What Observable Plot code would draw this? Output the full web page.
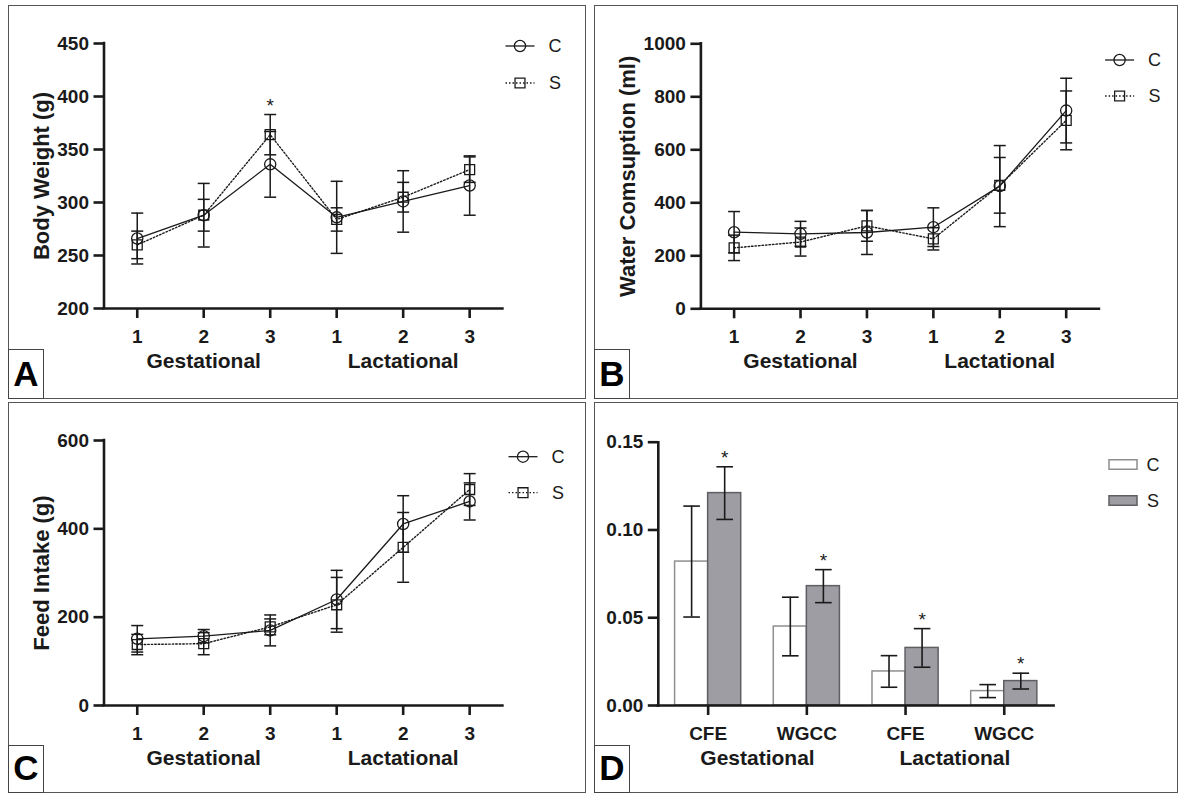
<!DOCTYPE html>
<html><head><meta charset="utf-8">
<script src="https://cdn.jsdelivr.net/npm/d3@7"></script>
<script src="https://cdn.jsdelivr.net/npm/@observablehq/plot@0.6"></script>
<style>
body{margin:0;background:#fff;}
#fig{position:relative;width:1181px;height:794px;background:#fff;overflow:hidden;font-family:"Liberation Sans",Arial,sans-serif;}
.panel{position:absolute;}
.panel svg{position:absolute;left:0;top:0;overflow:visible;}
.frame{position:absolute;border:1.5px solid #555;box-sizing:border-box;pointer-events:none;}
.tag{position:absolute;border:1.5px solid #444;box-sizing:border-box;font-weight:bold;font-size:35px;line-height:35px;color:#000;text-align:center;}
.tag span{position:absolute;left:0;right:0;bottom:7px;}
</style></head><body><div id="fig"></div>
<script>
// ---------- data ----------
const weeks = ["1", "2", "3", "1", "2", "3"];
const weekPhase = ["Gestational", "Gestational", "Gestational", "Lactational", "Lactational", "Lactational"];
const series = ["C", "S"];

// A: body weight (g)
const bodyC = [266, 288, 336, 286, 301, 316];
const bodyCErr = [24, 30, 31, 34, 29, 28];
const bodyS = [260, 288, 364, 284, 305, 331];
const bodySErr = [13, 15, 19, 11, 14, 12];
const bodySig = [false, false, true, false, false, false];
const bodyTicks = [200, 250, 300, 350, 400, 450];

// B: water consumption (ml)
const waterC = [289, 283, 288, 308, 463, 748];
const waterCErr = [78, 47, 83, 73, 153, 122];
const waterS = [230, 252, 313, 264, 466, 711];
const waterSErr = [48, 53, 58, 42, 105, 111];
const waterSig = [false, false, false, false, false, false];
const waterTicks = [0, 200, 400, 600, 800, 1000];

// C: feed intake (g)
const feedC = [151, 157, 170, 240, 411, 462];
const feedCErr = [30, 15, 35, 66, 64, 42];
const feedS = [138, 140, 178, 228, 358, 489];
const feedSErr = [23, 25, 18, 62, 79, 36];
const feedSig = [false, false, false, false, false, false];
const feedTicks = [0, 200, 400, 600];

// D: efficiency
const effKeys = ["G-CFE", "G-WGCC", "L-CFE", "L-WGCC"];
const effLabels = ["CFE", "WGCC", "CFE", "WGCC"];
const effPhase = ["Gestational", "Gestational", "Lactational", "Lactational"];
const effC = [0.082, 0.045, 0.0194, 0.0082];
const effCErr = [0.0316, 0.0167, 0.009, 0.0037];
const effS = [0.121, 0.068, 0.0328, 0.0139];
const effSErr = [0.015, 0.0094, 0.011, 0.0045];
const effSig = [true, true, true, true];
const effTicks = [0, 0.05, 0.10, 0.15];

// ---------- helpers ----------
const ink = "#1a1a1a";
const FONT = "'Liberation Sans', Arial, sans-serif";
const fig = document.getElementById("fig");
const capSymbol = {draw(ctx, size) { const r = Math.sqrt(size / Math.PI); ctx.moveTo(-r, 0); ctx.lineTo(r, 0); }};

function addPanel(box, svg, letter) {
  const div = document.createElement("div");
  div.className = "panel";
  Object.assign(div.style, {left: box.left + "px", top: box.top + "px", width: box.W + "px", height: box.H + "px"});
  div.appendChild(svg);
  fig.appendChild(div);
  const fr = document.createElement("div");
  fr.className = "frame";
  Object.assign(fr.style, {left: (box.left - 1) + "px", top: (box.top - 1) + "px", width: (box.W + 2) + "px", height: (box.H + 2) + "px"});
  fig.appendChild(fr);
  const tag = document.createElement("div");
  tag.className = "tag";
  Object.assign(tag.style, {left: (box.left - 1) + "px", top: (box.top + box.H + 1 - box.tagH) + "px", width: "36px", height: box.tagH + "px"});
  const sp = document.createElement("span"); sp.textContent = letter; tag.appendChild(sp);
  fig.appendChild(tag);
}

function axisStyle(extra) {
  return Object.assign({stroke: ink, fill: ink, strokeWidth: 2.6, tickSize: 10, fontSize: 19, fontWeight: "bold", label: null}, extra);
}

function linePanel(p) {
  const idx = weeks.map((_, i) => i + 1);
  const rows = [];
  series.forEach((s, k) => idx.forEach((x, i) => rows.push({series: s, x, y: p.values[k][i], err: p.errs[k][i]})));
  const xDom = [0.5, weeks.length + 0.5];
  const phaseRows = Array.from(d3.group(idx, i => weekPhase[i - 1]), ([ph, xs]) => ({ph, x: d3.mean(xs)}));
  const sigRows = idx.filter((x, i) => p.sig[i]).map(x => ({x, top: d3.max(rows.filter(r => r.x === x), r => r.y + r.err)}));
  const yMin = p.yTicks[0];
  const svg = Plot.plot({
    width: p.W, height: p.H,
    marginLeft: p.mL, marginRight: p.mR, marginTop: p.mT, marginBottom: p.mB,
    x: {type: "linear", domain: xDom},
    y: {domain: [yMin, p.yTicks[p.yTicks.length - 1]]},
    style: {fontFamily: FONT, color: ink, background: "transparent", overflow: "visible"},
    marks: [
      Plot.ruleY([yMin], {stroke: ink, strokeWidth: 2.6, strokeLinecap: "square"}),
      Plot.ruleX([xDom[0]], {stroke: ink, strokeWidth: 2.6, strokeLinecap: "square"}),
      Plot.axisY(axisStyle({ticks: p.yTicks, tickFormat: d3.format("d"), tickPadding: 5})),
      Plot.axisX(axisStyle({ticks: idx, tickFormat: i => weeks[i - 1], tickPadding: 11})),
      Plot.text(phaseRows, {x: "x", frameAnchor: "bottom", text: "ph", dy: 59.5, fontSize: 21, fontWeight: "bold", fill: ink}),
      Plot.text([p.title], {frameAnchor: "left", text: d => d, rotate: -90, textAnchor: "middle", dx: -p.titleOffset, fontSize: 22, fontWeight: "bold", fill: ink}),
      Plot.ruleX(rows, {x: "x", y1: d => d.y - d.err, y2: d => d.y + d.err, stroke: ink, strokeWidth: 1.5}),
      Plot.dot(rows, {x: "x", y: d => d.y + d.err, symbol: capSymbol, r: 6, stroke: ink, strokeWidth: 1.5}),
      Plot.dot(rows, {x: "x", y: d => d.y - d.err, symbol: capSymbol, r: 6, stroke: ink, strokeWidth: 1.5}),
      Plot.line(rows, {filter: d => d.series === "C", x: "x", y: "y", stroke: ink, strokeWidth: 1.3}),
      Plot.line(rows, {filter: d => d.series === "S", x: "x", y: "y", stroke: ink, strokeWidth: 1.4, strokeDasharray: "1.5,2"}),
      Plot.dot(rows, {filter: d => d.series === "C", x: "x", y: "y", symbol: "circle", r: 5.6, fill: "none", stroke: ink, strokeWidth: 1.3}),
      Plot.dot(rows, {filter: d => d.series === "S", x: "x", y: "y", symbol: "square", r: 5.6, fill: "none", stroke: ink, strokeWidth: 1.3}),
      Plot.text(sigRows, {x: "x", y: "top", text: () => "*", dy: -9, fontSize: 19, fill: ink})
    ]
  });
  // legend
  const g = d3.select(svg).append("g").attr("font-family", FONT);
  series.forEach((s, k) => {
    const cx = p.lg.x, cy = p.lg.y + k * p.lg.gap;
    g.append("line").attr("x1", cx - 14.5).attr("x2", cx + 14.5).attr("y1", cy).attr("y2", cy)
      .attr("stroke", ink).attr("stroke-width", 1.3).attr("stroke-dasharray", k ? "1.5,2" : null);
    g.append("path").attr("transform", `translate(${cx},${cy})`)
      .attr("d", d3.symbol(k ? d3.symbolSquare : d3.symbolCircle, Math.PI * 5.6 * 5.6)())
      .attr("fill", "none").attr("stroke", ink).attr("stroke-width", 1.3);
    g.append("text").attr("x", cx + 35).attr("y", cy).attr("dy", "0.36em").attr("font-size", 18).attr("fill", ink).text(s);
  });
  addPanel(p, svg, p.letter);
}

function barPanel(p) {
  const rows = effKeys.map((key, i) => ({key, c: effC[i], ce: effCErr[i], s: effS[i], se: effSErr[i], sig: effSig[i]}));
  const xOpts = {type: "band", domain: effKeys, paddingInner: 0.33, paddingOuter: 0.17, round: false};
  const base = {
    width: p.W, height: p.H,
    marginLeft: p.mL, marginRight: p.mR, marginTop: p.mT, marginBottom: p.mB,
    x: xOpts,
    y: {domain: [effTicks[0], effTicks[effTicks.length - 1]]},
    style: {fontFamily: FONT, color: ink, background: "transparent", overflow: "visible"}
  };
  const probe = Plot.plot({...base, marks: [Plot.barY(rows, {x: "key", y: "c"})]});
  const xs = probe.scale("x");
  const bw = xs.bandwidth;
  const step = xs.step ?? bw / (1 - xOpts.paddingInner);
  const phaseRows = Array.from(d3.group(effKeys.map((k, i) => ({k, ph: effPhase[i]})), d => d.ph),
    ([ph, arr]) => ({ph, x: arr[0].k, n: arr.length}));
  const svg = Plot.plot({
    ...base,
    marks: [
      Plot.barY(rows, {x: "key", y: "c", insetRight: bw / 2, fill: "#ffffff", stroke: "#8f8f8f", strokeWidth: 1.5}),
      Plot.barY(rows, {x: "key", y: "s", insetLeft: bw / 2, fill: "#9e9da3", stroke: "#5f5f63", strokeWidth: 1.5}),
      Plot.ruleY([effTicks[0]], {stroke: ink, strokeWidth: 2.6, strokeLinecap: "square"}),
      Plot.frame({anchor: "left", stroke: ink, strokeWidth: 2.6}),
      Plot.axisY(axisStyle({ticks: effTicks, tickFormat: d3.format(".2f"), tickPadding: 5})),
      Plot.axisX(axisStyle({tickFormat: k => effLabels[effKeys.indexOf(k)], tickPadding: 11})),
      Plot.text(phaseRows, {x: "x", frameAnchor: "bottom", text: "ph", dx: step / 2, dy: 59.5, fontSize: 21, fontWeight: "bold", fill: ink}),
      Plot.ruleX(rows, {x: "key", y1: d => d.c - d.ce, y2: d => d.c + d.ce, dx: -bw / 4, stroke: ink, strokeWidth: 1.6}),
      Plot.dot(rows, {x: "key", y: d => d.c + d.ce, dx: -bw / 4, symbol: capSymbol, r: 8.3, stroke: ink, strokeWidth: 1.6}),
      Plot.dot(rows, {x: "key", y: d => d.c - d.ce, dx: -bw / 4, symbol: capSymbol, r: 8.3, stroke: ink, strokeWidth: 1.6}),
      Plot.ruleX(rows, {x: "key", y1: d => d.s - d.se, y2: d => d.s + d.se, dx: bw / 4, stroke: ink, strokeWidth: 1.6}),
      Plot.dot(rows, {x: "key", y: d => d.s + d.se, dx: bw / 4, symbol: capSymbol, r: 8.3, stroke: ink, strokeWidth: 1.6}),
      Plot.dot(rows, {x: "key", y: d => d.s - d.se, dx: bw / 4, symbol: capSymbol, r: 8.3, stroke: ink, strokeWidth: 1.6}),
      Plot.text(rows.filter(d => d.sig), {x: "key", y: d => d.s + d.se, text: () => "*", dx: bw / 4, dy: -9, fontSize: 19, fill: ink})
    ]
  });
  const g = d3.select(svg).append("g").attr("font-family", FONT);
  series.forEach((s, k) => {
    const cy = p.lg.y + k * p.lg.gap;
    g.append("rect").attr("x", p.lg.x).attr("y", cy - 4.75).attr("width", 28).attr("height", 9.5)
      .attr("fill", k ? "#9e9da3" : "#ffffff").attr("stroke", k ? "#5f5f63" : "#8f8f8f").attr("stroke-width", 1.5);
    g.append("text").attr("x", p.lg.x + 44).attr("y", cy).attr("dy", "0.36em").attr("font-size", 18).attr("fill", ink).text(s);
  });
  addPanel(p, svg, p.letter);
}

linePanel({letter: "A", left: 9, top: 6, W: 576, H: 392, tagH: 50, mL: 94.5, mR: 82.6, mT: 37, mB: 90,
  values: [bodyC, bodyS], errs: [bodyCErr, bodySErr], sig: bodySig, yTicks: bodyTicks,
  title: "Body Weight (g)", titleOffset: 62.5, lg: {x: 511, y: 40, gap: 37}});
linePanel({letter: "B", left: 595, top: 6, W: 582, H: 392, tagH: 50, mL: 105.4, mR: 78.1, mT: 37.3, mB: 89.7,
  values: [waterC, waterS], errs: [waterCErr, waterSErr], sig: waterSig, yTicks: waterTicks,
  title: "Water Comsuption (ml)", titleOffset: 72.7, lg: {x: 524.6, y: 54, gap: 36}});
linePanel({letter: "C", left: 9, top: 403, W: 576, H: 389, tagH: 48, mL: 94.5, mR: 82.6, mT: 37, mB: 87,
  values: [feedC, feedS], errs: [feedCErr, feedSErr], sig: feedSig, yTicks: feedTicks,
  title: "Feed Intake (g)", titleOffset: 62.5, lg: {x: 514, y: 53.7, gap: 36}});
barPanel({letter: "D", left: 595, top: 403, W: 582, H: 389, tagH: 48, mL: 62.8, mR: 123.4, mT: 38.7, mB: 87,
  lg: {x: 514, y: 61.5, gap: 36}});
</script></body></html>
